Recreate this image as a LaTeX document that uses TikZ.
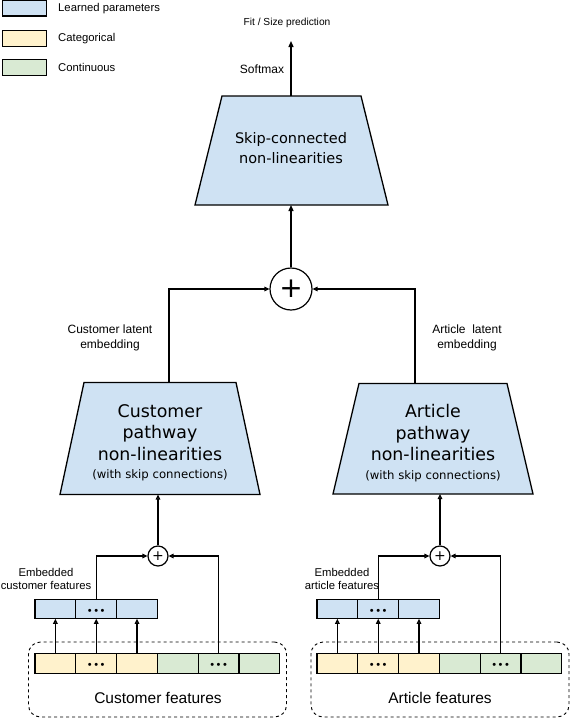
\documentclass[tikz,border=0pt]{standalone}
\usepackage{fontspec}
\setmainfont{Liberation Sans}
\newfontfamily\dejavu{DejaVu Sans}
\usetikzlibrary{arrows.meta}
\definecolor{learned}{HTML}{CFE2F3}
\definecolor{categ}{HTML}{FFF2CC}
\definecolor{contin}{HTML}{D9EAD3}

\begin{document}
\begin{tikzpicture}[x=1pt,y=-1pt]
  \tikzstyle{swatch}=[draw,line width=1.2pt,minimum width=44pt,minimum height=16pt,inner sep=0pt]
  \tikzstyle{cell}=[draw,line width=1.2pt,minimum width=40.8pt,minimum height=19.5pt,inner sep=0pt,outer sep=0pt]
  \tikzstyle{dots}=[inner sep=0pt,font=\fontsize{11}{11}\selectfont]
  \tikzstyle{pathway}=[draw,line width=1.3pt,fill=learned,line join=miter]
  \tikzstyle{pathtext}=[inner sep=0pt,align=center,font=\dejavu\fontsize{17.4}{21.5}\selectfont]
  \tikzstyle{sum}=[circle,draw,line width=1.2pt,inner sep=0pt,font=\dejavu]
  \tikzstyle{group}=[draw,dashed,line width=0.9pt,rounded corners=12pt,minimum width=258pt,minimum height=75pt]
  \tikzstyle{link}=[line width=1.3pt,-{Triangle[open,length=5pt,width=4.5pt]}]
  \tikzstyle{feed}=[line width=1.3pt,-{Triangle[length=6pt,width=5pt]}]
  \tikzstyle{caption}=[align=center,inner sep=0pt,font=\fontsize{11.3}{13}\selectfont]
  \useasboundingbox (0,0) rectangle (572,720);

  % legend
  \node[swatch,fill=learned] (keyL) at (24.5,8) {};
  \node[swatch,fill=categ] (keyC) at (24.5,38.5) {};
  \node[swatch,fill=contin] (keyN) at (24.5,67.5) {};
  \node[caption,anchor=west] (keyLt) at (58,9) {Learned parameters};
  \node[caption,anchor=west] (keyCt) at (58,39) {Categorical};
  \node[caption,anchor=west] (keyNt) at (58,67.5) {Continuous};

  % feature groups
  \node[group] (cgroup) at (157.5,679.5) {};
  \node[group] (agroup) at (440,679.5) {};
  \node[font=\fontsize{15.5}{18}\selectfont] (cgroupt) at (158,698) {Customer features};
  \node[font=\fontsize{15.5}{18}\selectfont] (agroupt) at (440,698) {Article features};

  \foreach \i/\col in {1/categ,2/categ,3/categ,4/contin,5/contin,6/contin} {
    \node[cell,fill=\col] (cc\i) at (14.6+40.8*\i,663.5) {};
    \node[cell,fill=\col] (ac\i) at (296.6+40.8*\i,663.5) {};
  }
  \foreach \i in {1,2,3} {
    \node[cell,fill=learned] (ce\i) at (14.6+40.8*\i,609) {};
    \node[cell,fill=learned] (ae\i) at (296.6+40.8*\i,609) {};
    \draw[link] (cc\i.north) -- (ce\i.south);
    \draw[link] (ac\i.north) -- (ae\i.south);
  }
  \foreach \c in {cc2,cc5,ce2,ac2,ac5,ae2}
    \node[dots] (\c dots) at ([yshift=-2.5pt]\c) {\textbullet\hspace{2.5pt}\textbullet\hspace{2.5pt}\textbullet};

  \node[caption] (cembt) at (46,578.5) {Embedded\\customer features};
  \node[caption] (aembt) at (342,578.5) {Embedded\\article features};

  % pathways
  \node[sum,minimum size=20pt,font=\dejavu\fontsize{14}{14}\selectfont] (cplus) at (158,556) {+};
  \node[sum,minimum size=20pt,font=\dejavu\fontsize{14}{14}\selectfont] (aplus) at (440,556) {+};
  \draw[link] (ce2.north) |- (cplus.west);
  \draw[link] (cc5.north) |- (cplus.east);
  \draw[link] (ae2.north) |- (aplus.west);
  \draw[link] (ac5.north) |- (aplus.east);

  \draw[pathway] (60,494.5) -- (84,382.5) -- (236,382.5) -- (260,494.5) -- cycle;
  \draw[pathway] (333,494) -- (359,383.5) -- (507,383.5) -- (533,494) -- cycle;
  \coordinate (custtop) at (160,382.5);
  \coordinate (custbot) at (160,494.5);
  \coordinate (arttop) at (433,383.5);
  \coordinate (artbot) at (433,494);
  \node[pathtext] (cust) at (160,443) {Customer\\pathway\\non-linearities\\[-3pt]
    {\fontsize{11.7}{14}\selectfont (with skip connections)}};
  \node[pathtext] (art) at (433,443) {Article\\pathway\\non-linearities\\[-3pt]
    {\fontsize{11.7}{14}\selectfont (with skip connections)}};
  \draw[link] (cplus.north) -- (cplus.north |- custbot);
  \draw[link] (aplus.north) -- (aplus.north |- artbot);

  % merge
  \node[sum,minimum size=42pt,font=\dejavu\fontsize{28}{28}\selectfont] (plus) at (291,289) {+};
  \draw[link] ([xshift=9pt]custtop) |- (plus.west);
  \draw[link] ([xshift=-18pt]arttop) |- (plus.east);
  \node[align=center,font=\fontsize{12}{15}\selectfont] (clat) at (110,337.5) {Customer latent\\embedding};
  \node[align=center,font=\fontsize{12}{15}\selectfont] (alat) at (467,337.5) {Article\ \ latent\\embedding};

  \draw[pathway] (195,205) -- (222,96) -- (361,96) -- (388,205) -- cycle;
  \coordinate (skiptop) at (291,96);
  \coordinate (skipbot) at (291,205);
  \node[pathtext,font=\dejavu\fontsize{14.5}{20}\selectfont] (skip) at (291,148.5) {Skip-connected\\non-linearities};
  \draw[feed] (plus.north) -- (skipbot);

  \coordinate (out) at (291,41);
  \draw[feed] (skiptop) -- (out);
  \node[font=\fontsize{10.2}{12}\selectfont] (pred) at (287,23) {Fit / Size prediction};
  \node[font=\fontsize{12}{14}\selectfont] (soft) at (262,69) {Softmax};
\end{tikzpicture}
\end{document}
